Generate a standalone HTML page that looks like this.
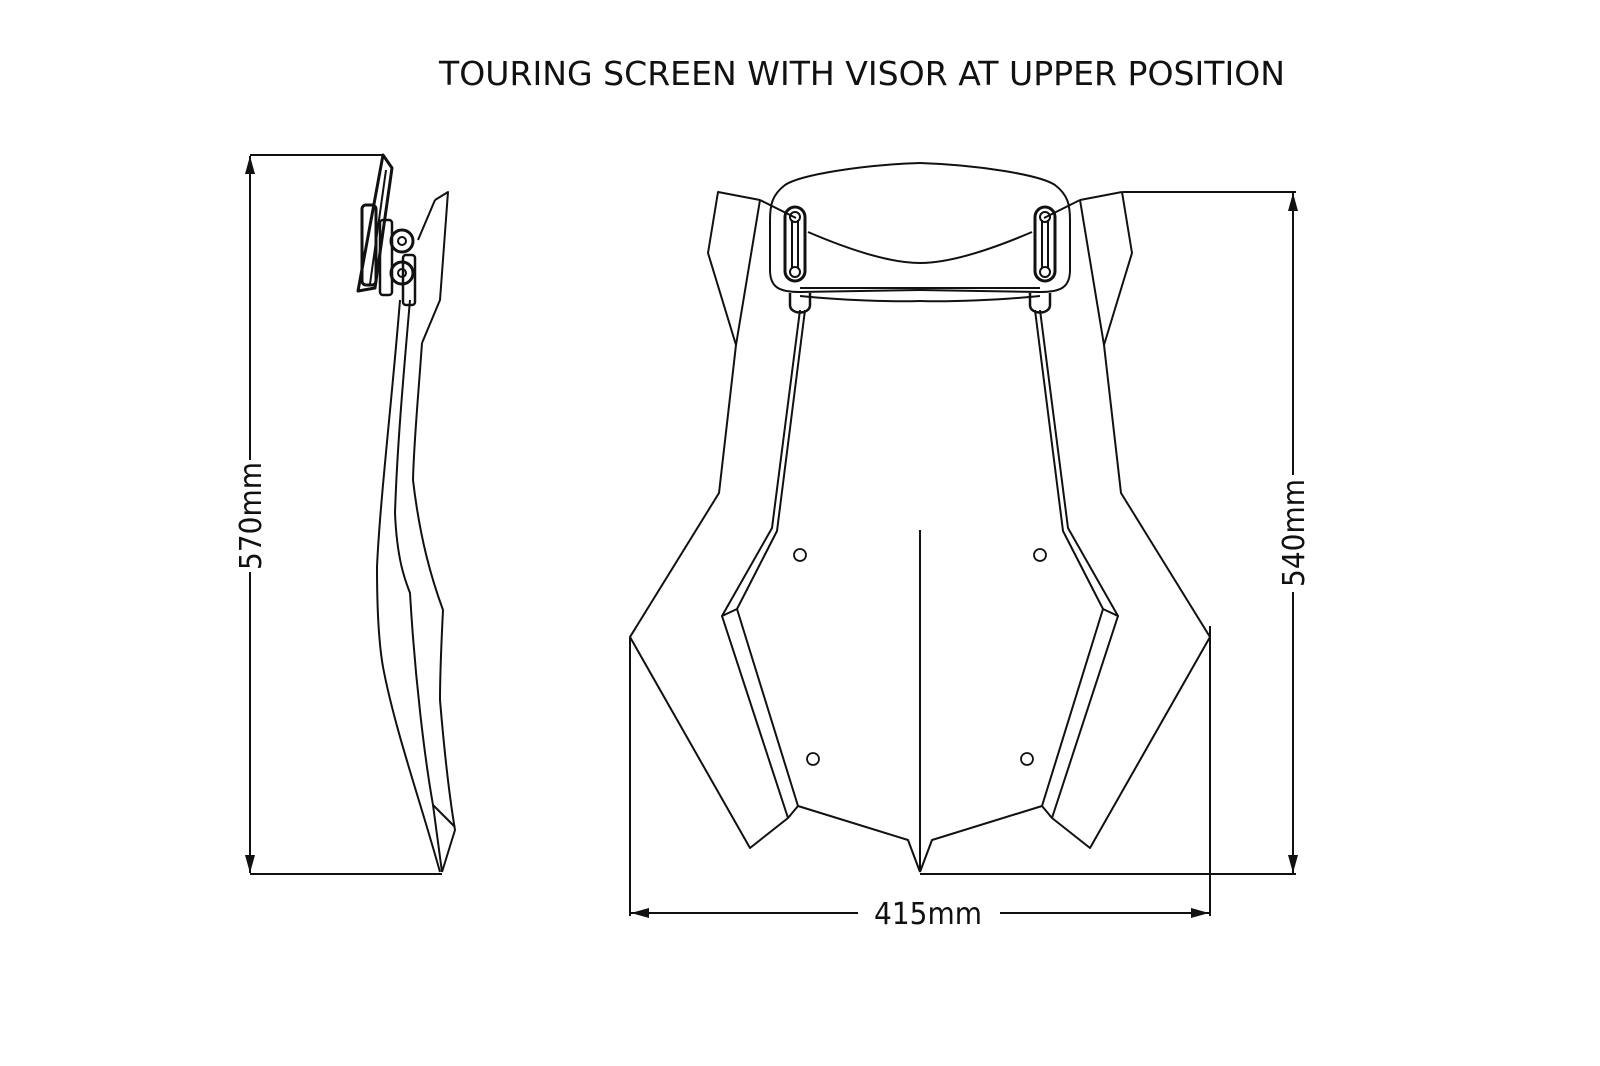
<!DOCTYPE html>
<html><head><meta charset="utf-8"><style>
html,body{margin:0;padding:0;background:#fff;}
svg{display:block;}
text{font-family:"DejaVu Sans","Liberation Sans",sans-serif;fill:#111;}
</style></head><body>
<svg width="1600" height="1066" viewBox="0 0 1600 1066" xmlns="http://www.w3.org/2000/svg">
<defs>
<marker id="ar" markerWidth="18" markerHeight="10" refX="18" refY="5" orient="auto" markerUnits="userSpaceOnUse">
<path d="M0,0 L18,5 L0,10 Z" fill="#111"/></marker>
<g id="half" fill="none" stroke="#111" stroke-width="2" stroke-linejoin="round">
<polyline points="760,200 718,192 708,253 736,345 719,493 630,637 750,848 788,818 798,806 908,840 920,872"/>
<polyline points="760,200 736,345"/>
<polyline points="760,200 796,218"/>
<polyline points="800,310 772,528 722,616 788,818"/>
<polyline points="805,310 777,531 737,609 798,806"/>
<line x1="722" y1="616" x2="737" y2="609"/>
<circle cx="800" cy="555" r="6" stroke-width="1.8"/>
<circle cx="813" cy="759" r="6" stroke-width="1.8"/>
<path d="M920,163 C860,165 800,175 785,185 C772,195 770,205 770,220 L770,270 C770,288 780,292 800,292 L920,290" />
<path d="M808,232 C850,250 890,263 920,263"/>
<path d="M800,288 L920,288"/>
<path d="M800,296 C840,300 890,302 920,301"/>
<rect x="785" y="207" width="20" height="74" rx="10" stroke-width="3"/>
<line x1="792" y1="220" x2="792" y2="268"/><line x1="798" y1="220" x2="798" y2="268"/>
<circle cx="795" cy="217" r="5"/><circle cx="795" cy="272" r="5"/>
<path d="M790,293 L790,305 C790,315 810,315 810,305 L810,293" stroke-width="2.5"/>
</g>
</defs>
<text x="439" y="85" font-size="33" textLength="846" lengthAdjust="spacingAndGlyphs">TOURING SCREEN WITH VISOR AT UPPER POSITION</text>
<use href="#half"/>
<use href="#half" transform="translate(1840,0) scale(-1,1)"/>
<line x1="920" y1="530" x2="920" y2="872" stroke="#111" stroke-width="2"/>

<g fill="none" stroke="#111" stroke-width="2" stroke-linejoin="round">
<polygon points="383,155 392,168 375,288 358,291" stroke-width="3"/>
<line x1="386" y1="170" x2="370" y2="284"/>
<rect x="362" y="205" width="14" height="80" rx="4" stroke-width="3"/>
<rect x="380" y="220" width="12" height="75" rx="3" stroke-width="2.5"/>
<rect x="403" y="255" width="12" height="50" rx="3" stroke-width="2.5"/>
<circle cx="402" cy="241" r="11" stroke-width="3"/><circle cx="402" cy="241" r="4"/>
<circle cx="402" cy="273" r="11" stroke-width="3"/><circle cx="402" cy="273" r="4"/>
<polyline points="435,200 448,192 440,300 422,343"/>
<polyline points="435,200 418,240"/>
<path d="M400,300 C392,400 380,500 377,567 C377,620 380,650 383,667 C395,730 420,800 440,872"/>
<path d="M410,300 C403,380 397,450 395,513 C397,560 405,580 410,593 C415,680 425,760 433,805 L442,872"/>
<path d="M422,343 C418,400 414,440 413,480 C420,540 432,580 443,610 C441,650 440,680 440,700 C445,760 450,800 455,830 L442,872"/>
<line x1="433" y1="805" x2="455" y2="827"/>
</g>

<g stroke="#111" stroke-width="2" fill="none">
<line x1="250" y1="155" x2="383" y2="155"/>
<line x1="250" y1="874" x2="442" y2="874"/>
<line x1="250" y1="460" x2="250" y2="156" marker-end="url(#ar)"/>
<line x1="250" y1="572" x2="250" y2="873" marker-end="url(#ar)"/>
<line x1="1123" y1="192" x2="1296" y2="192"/>
<line x1="920" y1="874" x2="1296" y2="874"/>
<line x1="1293" y1="475" x2="1293" y2="193" marker-end="url(#ar)"/>
<line x1="1293" y1="592" x2="1293" y2="873" marker-end="url(#ar)"/>
<line x1="630" y1="637" x2="630" y2="916"/>
<line x1="1210" y1="626" x2="1210" y2="916"/>
<line x1="858" y1="913" x2="631" y2="913" marker-end="url(#ar)"/>
<line x1="1000" y1="913" x2="1209" y2="913" marker-end="url(#ar)"/>
</g>
<text font-size="30" text-anchor="middle" transform="translate(261,516) rotate(-90)" textLength="108" lengthAdjust="spacingAndGlyphs">570mm</text>
<text font-size="30" text-anchor="middle" transform="translate(1304,533) rotate(-90)" textLength="108" lengthAdjust="spacingAndGlyphs">540mm</text>
<text x="928" y="924" font-size="30" text-anchor="middle" textLength="108" lengthAdjust="spacingAndGlyphs">415mm</text>
</svg>
</body></html>
